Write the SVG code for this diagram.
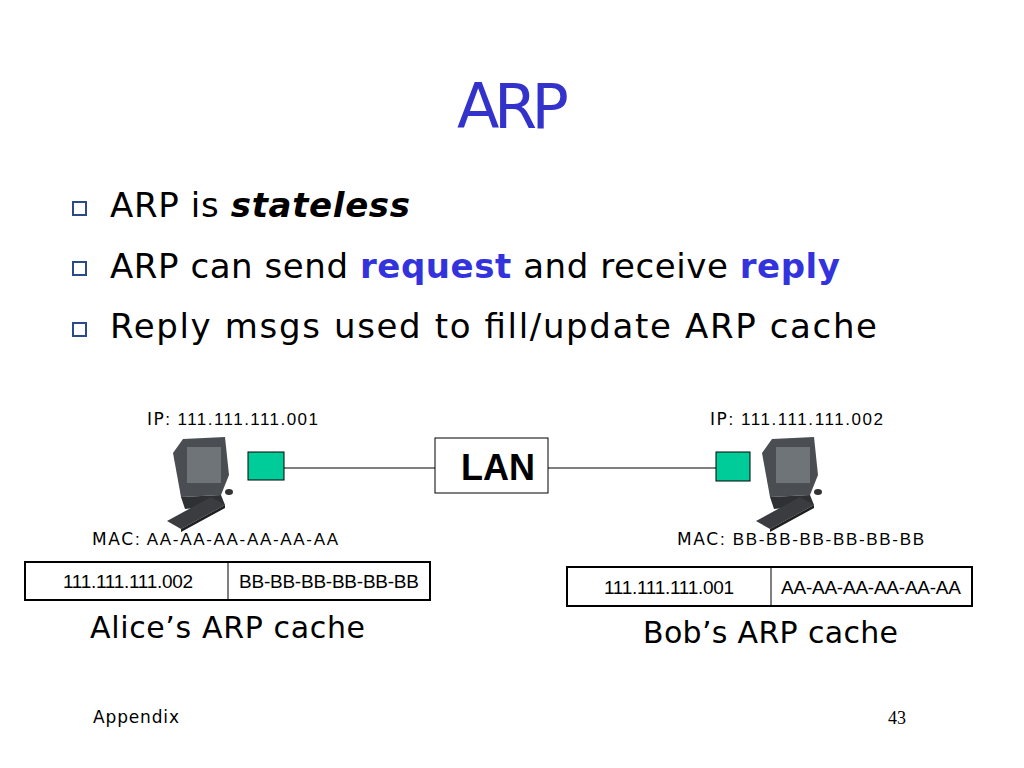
<svg xmlns="http://www.w3.org/2000/svg" width="1024" height="768" viewBox="0 0 1024 768">
<style>
.c{font-family:"DejaVu Sans",sans-serif}
.a{font-family:"Liberation Sans",Arial,sans-serif}
.b{fill:none;stroke:#2a4a8a;stroke-width:2}
.blue{fill:#3333dd;font-weight:bold}
.tb{fill:#fff;stroke:#000;stroke-width:2}
.nic{fill:#00cc99;stroke:#000;stroke-width:1}
</style>
<defs>
<g id="pc">
<path d="M10 18 L20 4 L62 2 L66 40 L58 60 L18 62 Z" fill="#4a4d52"/>
<rect x="24" y="12" width="34" height="36" fill="#6f7478"/>
<path d="M18 62 L58 60 L62 70 L22 74 Z" fill="#2e3033"/>
<path d="M4 86 L48 62 L62 70 L18 94 Z" fill="#3a3c40"/>
<path d="M18 94 L62 70 L62 73 L18 97 Z" fill="#1e1f21"/>
<ellipse cx="66" cy="57" rx="4" ry="3" fill="#333"/>
</g>
</defs>
<rect width="1024" height="768" fill="#fff"/>
<text x="513" y="128" text-anchor="middle" class="c" font-size="62" fill="#3333cc" textLength="112">ARP</text>
<g class="c" font-size="34" fill="#000">
<rect class="b" x="73" y="202" width="13" height="13"/>
<rect class="b" x="73" y="262" width="13" height="13"/>
<rect class="b" x="73" y="323" width="13" height="13"/>
<text x="110" y="217" textLength="300">ARP is <tspan font-weight="bold" font-style="italic">stateless</tspan></text>
<text x="110" y="278" textLength="730">ARP can send <tspan class="blue">request</tspan> and receive <tspan class="blue">reply</tspan></text>
<text x="110" y="338" textLength="767">Reply msgs used to fill/update ARP cache</text>
</g>
<g id="connectors" stroke="#000" stroke-width="1">
<line x1="284" y1="468" x2="435" y2="468"/>
<line x1="548" y1="468" x2="716" y2="468"/>
</g>
<g id="lan"><rect x="435" y="438" width="113" height="55" fill="#fff" stroke="#000"/><text x="498" y="480" text-anchor="middle" class="a" font-size="36" font-weight="bold">LAN</text></g>
<g id="alice">
<use href="#pc" x="163" y="435"/>
<rect class="nic" x="248" y="452" width="36" height="28"/>
<text x="147" y="425" class="a" font-size="17" textLength="171"><tspan class="c">IP</tspan>: 111.111.111.001</text>
<text x="92" y="545" class="a" font-size="17" textLength="246"><tspan class="c">MAC</tspan>: AA-AA-AA-AA-AA-AA</text>
<rect class="tb" x="25" y="562" width="405" height="38"/>
<line x1="228" y1="562" x2="228" y2="600" stroke="#000"/>
<text x="128" y="588" text-anchor="middle" class="a" font-size="19" textLength="130">111.111.111.002</text>
<text x="329" y="588" text-anchor="middle" class="a" font-size="19" textLength="180">BB-BB-BB-BB-BB-BB</text>
<text x="90" y="638" class="c" font-size="30" textLength="275">Alice’s ARP cache</text>
</g>
<g id="bob">
<use href="#pc" x="752" y="435"/>
<rect class="nic" x="716" y="452" width="34" height="29"/>
<text x="710" y="425" class="a" font-size="17" textLength="173"><tspan class="c">IP</tspan>: 111.111.111.002</text>
<text x="677" y="545" class="a" font-size="17" textLength="247"><tspan class="c">MAC</tspan>: BB-BB-BB-BB-BB-BB</text>
<rect class="tb" x="567" y="567" width="405" height="39"/>
<line x1="771" y1="567" x2="771" y2="606" stroke="#000"/>
<text x="669" y="594" text-anchor="middle" class="a" font-size="19" textLength="130">111.111.111.001</text>
<text x="871" y="594" text-anchor="middle" class="a" font-size="19" textLength="180">AA-AA-AA-AA-AA-AA</text>
<text x="643" y="643" class="c" font-size="30" textLength="255">Bob’s ARP cache</text>
</g>
<text x="93" y="723" class="c" font-size="17" textLength="86">Appendix</text>
<text x="888" y="724" font-family="Liberation Serif,serif" font-size="18">43</text>
</svg>
